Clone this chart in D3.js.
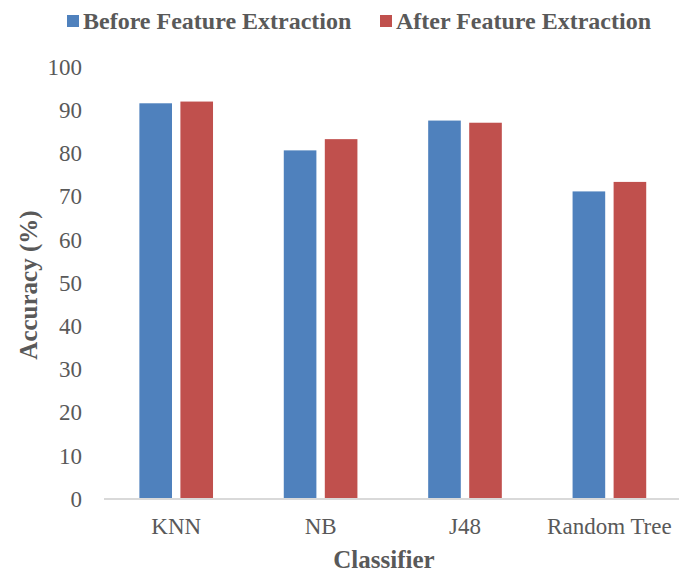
<!DOCTYPE html>
<html>
<head>
<meta charset="utf-8">
<script src="https://cdn.jsdelivr.net/npm/d3@7"></script>
<style>
body{margin:0;background:#fff;}
</style>
</head>
<body>
<script>
const classifiers=["KNN","NB","J48","Random Tree"];
const seriesNames=["Before Feature Extraction","After Feature Extraction"];
const before=[91.6,80.7,87.6,71.2];
const after=[92.0,83.3,87.1,73.4];
const yTicks=[0,10,20,30,40,50,60,70,80,90,100];

const chartW=679,chartH=572,
plotLeft=104,plotRight=681.6,plotTop=67,plotBottom=499,
colors=["#4F81BD","#C0504D"],
fontName="'Liberation Serif'",
textColor="#595959";

const svg=d3.select("body").append("svg")
  .attr("width",chartW)
  .attr("height",chartH);

const x0=d3.scaleBand().domain(classifiers).range([plotLeft,plotRight]).paddingInner(0.49).paddingOuter(0.245);
const x1=d3.scaleBand().domain(seriesNames).range([0,x0.bandwidth()]).paddingInner(0.205);
const y=d3.scaleLinear().domain([0,100]).range([plotBottom,plotTop]);

const rows=classifiers.map((c,i)=>({c:c,vals:[before[i],after[i]]}));

// bars
const grp=svg.selectAll(".grp").data(rows).enter().append("g")
  .attr("transform",d=>`translate(${x0(d.c)},0)`);
grp.selectAll("rect").data(d=>d.vals.map((v,j)=>({s:seriesNames[j],v:v,j:j}))).enter()
  .append("rect")
  .attr("x",d=>x1(d.s))
  .attr("width",x1.bandwidth())
  .attr("y",d=>y(d.v))
  .attr("height",d=>y(0)-y(d.v))
  .attr("fill",d=>colors[d.j]);

// x axis line
svg.append("line")
  .attr("x1",plotLeft).attr("x2",chartW)
  .attr("y1",y(0)).attr("y2",y(0))
  .attr("stroke","#d9d9d9").attr("stroke-width",2);

// y tick labels
const yAxis=d3.axisLeft(y).tickValues(yTicks).tickSize(0).tickPadding(0);
const ya=svg.append("g").attr("transform","translate(82,0)").call(yAxis);
ya.select(".domain").remove();
ya.selectAll("text")
  .style("font-family",fontName).style("font-size","23px")
  .attr("fill",textColor);

// x tick labels
const xAxis=d3.axisBottom(x0).tickSize(0).tickPadding(0);
const xa=svg.append("g").attr("transform",`translate(0,${y(0)+19})`).call(xAxis);
xa.select(".domain").remove();
xa.selectAll("text")
  .style("font-family",fontName).style("font-size","23px")
  .attr("fill",textColor);

// axis titles
svg.append("text")
  .attr("x",384).attr("y",568)
  .attr("text-anchor","middle")
  .style("font-family",fontName).style("font-size","25px").style("font-weight","bold")
  .attr("fill",textColor)
  .text("Classifier");

svg.append("text")
  .attr("transform","translate(37,285) rotate(-90)")
  .attr("text-anchor","middle")
  .style("font-family",fontName).style("font-size","25px").style("font-weight","bold")
  .attr("fill",textColor)
  .text("Accuracy (%)");

// legend
const legendX=[67,380];
const legend=svg.selectAll(".legend").data(seriesNames).enter().append("g")
  .attr("transform",(d,i)=>`translate(${legendX[i]},15)`);
legend.append("rect")
  .attr("width",12).attr("height",12)
  .attr("fill",(d,i)=>colors[i]);
legend.append("text")
  .attr("x",16).attr("y",6).attr("dy","0.35em")
  .style("font-family",fontName).style("font-size","24px").style("font-weight","bold")
  .attr("fill",textColor)
  .text(d=>d);
</script>
</body>
</html>
